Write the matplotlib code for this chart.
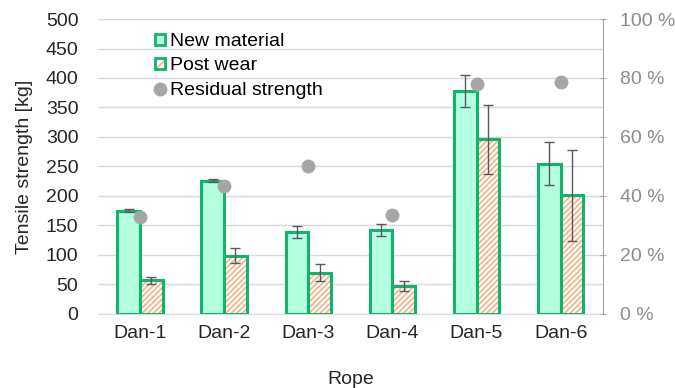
import matplotlib.pyplot as plt
import numpy as np
from matplotlib.patches import Patch
from matplotlib.lines import Line2D
from matplotlib.legend_handler import HandlerTuple
from matplotlib.ticker import PercentFormatter, MultipleLocator

# ---- data ----
ropes = ["Dan-1", "Dan-2", "Dan-3", "Dan-4", "Dan-5", "Dan-6"]
new_strength = [175, 226, 139, 142, 378, 255]
new_err = [3, 3, 10, 10, 27, 37]
worn_strength = [57, 99, 70, 47, 296, 201]
worn_err = [6, 12, 14, 8, 58, 77]
residual_pct = [33, 43.5, 50.3, 33.5, 78.1, 78.5]

GREEN = "#12B36C"
MINT = "#B3FFE0"
ORANGE = "#F4B183"
GREY_DOT = "#A6A6A6"
ERR = "#595959"
AX_GREY = "#A6A6A6"
TXT = "#262626"
FS = 14

plt.rcParams["font.family"] = ["Liberation Sans", "DejaVu Sans"]
plt.rcParams["hatch.linewidth"] = 1.2

fig = plt.figure(figsize=(6.75, 3.88), dpi=100)
ax = fig.add_axes([0.145, 0.191, 0.748, 0.76])

x = np.arange(len(ropes))
w = 0.27

# new material bars
ax.bar(x - w / 2, new_strength, w, color=MINT, edgecolor=GREEN, linewidth=2.2, zorder=3)
# post wear bars: orange hatch underneath, green outline on top
ax.bar(x + w / 2, worn_strength, w, color="white", edgecolor=ORANGE, hatch="//////",
       linewidth=0, zorder=3)
ax.bar(x + w / 2, worn_strength, w, fill=False, edgecolor=GREEN, linewidth=2.2, zorder=4)

ax.errorbar(x - w / 2, new_strength, yerr=new_err, fmt="none", ecolor=ERR,
            elinewidth=1, capsize=3.5, capthick=1, zorder=5)
ax.errorbar(x + w / 2, worn_strength, yerr=worn_err, fmt="none", ecolor=ERR,
            elinewidth=1, capsize=3.5, capthick=1, zorder=5)

ax.set_ylim(0, 500)
ax.set_xlim(-0.5, len(ropes) - 0.5)
ax.yaxis.set_major_locator(MultipleLocator(50))
ax.grid(axis="y", color="#D9D9D9", linewidth=1, zorder=0)
ax.set_axisbelow(True)
for s in ["top", "right", "left"]:
    ax.spines[s].set_visible(False)
ax.spines["bottom"].set_color("#D9D9D9")
ax.tick_params(axis="y", length=0, labelsize=FS, colors=TXT, pad=14)
ax.tick_params(axis="x", length=0, labelsize=FS, colors=TXT, pad=8)
ax.set_xticks(x)
ax.set_xticklabels(ropes)
ax.set_ylabel("Tensile strength [kg]", fontsize=FS, color=TXT, labelpad=9)
ax.set_xlabel("Rope", fontsize=FS, color=TXT, labelpad=21)

# residual strength on the secondary axis
ax2 = ax.twinx()
ax2.set_ylim(0, 100)
ax2.scatter(x, residual_pct, s=100, color=GREY_DOT, zorder=6, linewidths=0)
ax2.yaxis.set_major_locator(MultipleLocator(20))
ax2.yaxis.set_major_formatter(PercentFormatter(decimals=0, symbol=" %"))
for s in ["top", "left", "bottom"]:
    ax2.spines[s].set_visible(False)
ax2.spines["right"].set_color(AX_GREY)
ax2.tick_params(axis="y", direction="inout", length=5, color=AX_GREY,
                labelcolor="#8C8C8C", labelsize=FS, pad=10)

handles = [
    Patch(facecolor=MINT, edgecolor=GREEN, linewidth=2),
    (Patch(facecolor="white", edgecolor=ORANGE, hatch="////", linewidth=0),
     Patch(fill=False, edgecolor=GREEN, linewidth=2)),
    Line2D([], [], marker="o", linestyle="none", markersize=9,
           markerfacecolor=GREY_DOT, markeredgecolor=GREY_DOT),
]
labels = ["New material", "Post wear", "Residual strength"]
leg = ax.legend(handles, labels, loc="upper left", bbox_to_anchor=(0.082, 1.005),
                frameon=False, fontsize=FS, handlelength=0.5, handleheight=0.5,
                handletextpad=0.3, labelspacing=0.38, borderpad=0.3,
                handler_map={tuple: HandlerTuple(ndivide=1, pad=0)})
leg.set_zorder(10)

fig.savefig("out.png", dpi=100)
